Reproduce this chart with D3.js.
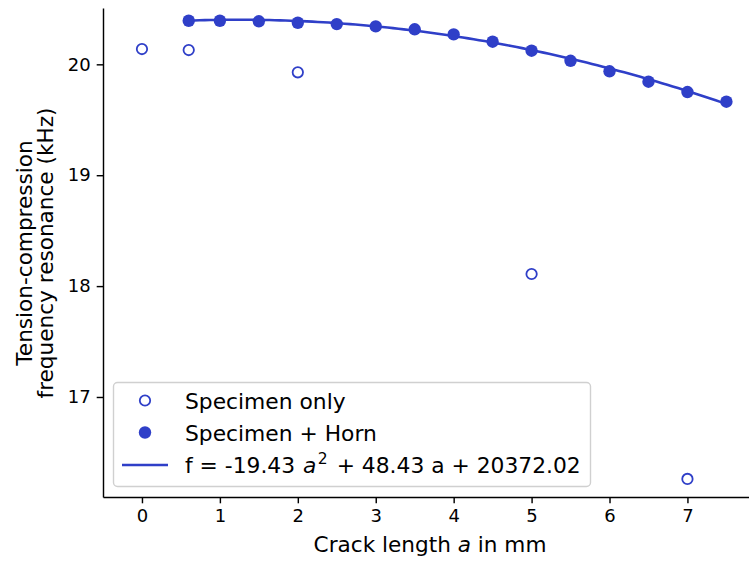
<!DOCTYPE html>
<html>
<head>
<meta charset="utf-8">
<script src="https://cdn.jsdelivr.net/npm/d3@7"></script>
<style>
  html, body { margin: 0; padding: 0; background: #fff; }
  svg { display: block; font-family: "DejaVu Sans", sans-serif; }
</style>
</head>
<body>
<svg id="chart" width="749" height="561"></svg>
<script>
// ---- data ----
const specimenOnlyA = [0, 0.6, 2, 5, 7];
const specimenOnlyF = [20.138, 20.129, 19.928, 18.109, 16.261];
const hornA = [0.6, 1, 1.5, 2, 2.5, 3, 3.5, 4, 4.5, 5, 5.5, 6, 6.5, 7, 7.5];
const hornF = [20.393, 20.393, 20.388, 20.375, 20.363, 20.342, 20.316, 20.270, 20.204, 20.123, 20.032, 19.937, 19.843, 19.750, 19.663];
// quadratic fit coefficients (Hz): f = c2*a^2 + c1*a + c0
const fitCoef = [-19.43, 48.43, 20372.02];
const fitRange = [0.6, 7.5];
const xTicks = [0, 1, 2, 3, 4, 5, 6, 7];
const yTicks = [17, 18, 19, 20];
const legendLabels = ["Specimen only", "Specimen + Horn"];

const color = "#2f3fc8";
const svg = d3.select("#chart");

const x = d3.scaleLinear().domain([-0.5, 7.79]).range([103, 749]);
const y = d3.scaleLinear().domain([16.098, 20.508]).range([497, 8]);

// axes
const xAxis = d3.axisBottom(x).tickValues(xTicks).tickFormat(d3.format("d")).tickSizeInner(6.3).tickSizeOuter(0).tickPadding(6);
const yAxis = d3.axisLeft(y).tickValues(yTicks).tickFormat(d3.format("d")).tickSizeInner(6.3).tickSizeOuter(0).tickPadding(6);

const gx = svg.append("g").attr("transform", "translate(0,497)").call(xAxis);
const gy = svg.append("g").attr("transform", "translate(103,0)").call(yAxis);
[gx, gy].forEach(g => {
  g.select(".domain").attr("stroke", "#000").attr("stroke-width", 1.44);
  g.selectAll(".tick line").attr("stroke", "#000").attr("stroke-width", 1.44);
  g.selectAll(".tick text").attr("fill", "#000").style("font-size", "18px").style("font-family", "DejaVu Sans");
});

// fit curve
const fitPts = d3.range(0, 101).map(i => {
  const a = fitRange[0] + (fitRange[1] - fitRange[0]) * i / 100;
  return [a, (fitCoef[0] * a * a + fitCoef[1] * a + fitCoef[2]) / 1000];
});
svg.append("path")
  .datum(fitPts)
  .attr("fill", "none")
  .attr("stroke", color)
  .attr("stroke-width", 2.6)
  .attr("d", d3.line().x(d => x(d[0])).y(d => y(d[1])));

// specimen only (open)
svg.append("g").selectAll("circle")
  .data(specimenOnlyA.map((a, i) => [a, specimenOnlyF[i]]))
  .join("circle")
  .attr("cx", d => x(d[0])).attr("cy", d => y(d[1]))
  .attr("r", 5.2).attr("fill", "none").attr("stroke", color).attr("stroke-width", 1.8);

// specimen + horn (filled)
svg.append("g").selectAll("circle")
  .data(hornA.map((a, i) => [a, hornF[i]]))
  .join("circle")
  .attr("cx", d => x(d[0])).attr("cy", d => y(d[1]))
  .attr("r", 6.2).attr("fill", color);

// legend
const lg = svg.append("g");
lg.append("rect").attr("x", 113.5).attr("y", 382.5).attr("width", 477).attr("height", 104)
  .attr("rx", 4).attr("fill", "#fff").attr("fill-opacity", 0.8).attr("stroke", "#d0d0d0").attr("stroke-width", 1.4);
lg.append("circle").attr("cx", 145).attr("cy", 400.5).attr("r", 5.2).attr("fill", "none").attr("stroke", color).attr("stroke-width", 1.8);
lg.append("circle").attr("cx", 145).attr("cy", 432.5).attr("r", 6.2).attr("fill", color);
lg.append("line").attr("x1", 122).attr("x2", 168).attr("y1", 465).attr("y2", 465).attr("stroke", color).attr("stroke-width", 2.6);
const fs = "21.8px";
lg.append("text").attr("x", 185).attr("y", 408.5).style("font-size", fs).text(legendLabels[0]);
lg.append("text").attr("x", 185).attr("y", 440.5).style("font-size", fs).text(legendLabels[1]);
const t3 = lg.append("text").attr("x", 185).attr("y", 472.5).style("font-size", fs);
t3.append("tspan").text("f = -19.43 ");
t3.append("tspan").attr("dx", 1).style("font-style", "italic").text("a");
t3.append("tspan").attr("dx", 1.5).attr("dy", -8.5).style("font-size", "15.5px").text("2");
t3.append("tspan").attr("dx", 2).attr("dy", 8.5).text(" + 48.43 a + 20372.02");

// axis labels
const xl = svg.append("text").attr("x", 430).attr("y", 552).attr("text-anchor", "middle").style("font-size", "21.6px");
xl.append("tspan").text("Crack length ");
xl.append("tspan").style("font-style", "italic").text("a");
xl.append("tspan").text(" in mm");

const yl = svg.append("text").attr("transform", "translate(0,253) rotate(-90)").attr("text-anchor", "middle").style("font-size", "21.6px");
yl.append("tspan").attr("x", 0).attr("y", 31.5).text("Tension-compression");
yl.append("tspan").attr("x", 0).attr("y", 53).text("frequency resonance (kHz)");
</script>
</body>
</html>
